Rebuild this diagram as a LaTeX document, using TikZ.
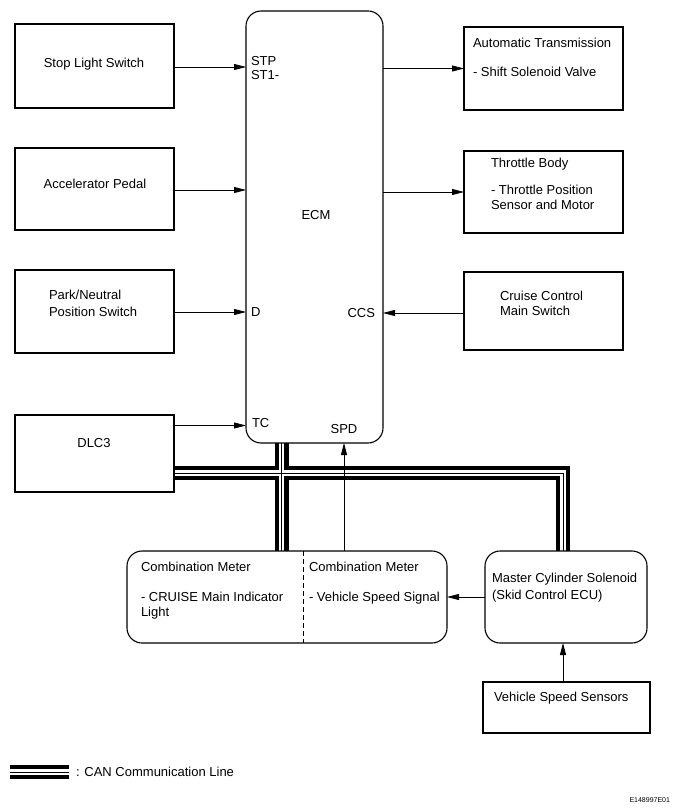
\documentclass[tikz,border=0pt]{standalone}
\usepackage{fontspec}
\setmainfont{Liberation Sans}
\usetikzlibrary{arrows.meta,calc}
\pgfdeclarelayer{background}
\pgfsetlayers{background,main}
\begin{document}
\begin{tikzpicture}[x=1pt,y=-1pt,
  box/.style={draw, line width=1.1pt, inner sep=0pt, outer sep=0pt},
  rbox/.style={box, rounded corners=15pt},
  txt/.style={inner sep=0pt, outer sep=0pt, anchor=base west, font=\fontsize{13}{15}\selectfont},
  ctxt/.style={txt, anchor=base},
  rtxt/.style={txt, anchor=base east},
  arr/.style={line width=0.8pt, -{Triangle[length=12pt,width=6pt]}},
  canout/.style={line width=14pt, line join=miter, line cap=butt},
  canmid/.style={white, line width=5.5pt, line join=miter, line cap=butt},
  canin/.style={line width=1pt, line join=miter, line cap=butt}]
\useasboundingbox (0,0) rectangle (677,810);

% left boxes
\node[box, minimum width=159pt, minimum height=84pt] (stop) at (94.5,66) {};
\node[box, minimum width=159pt, minimum height=82pt] (acc) at (94.5,189) {};
\node[box, minimum width=159pt, minimum height=83pt] (park) at (94.5,311.5) {};
\node[box, minimum width=159pt, minimum height=77pt] (dlc) at (94.5,453.5) {};
% ECM
\node[rbox, minimum width=137pt, minimum height=432pt] (ecm) at (314.5,227) {};
% right boxes
\node[box, minimum width=159pt, minimum height=83pt] (at) at (543.5,68.5) {};
\node[box, minimum width=159pt, minimum height=82pt] (tb) at (543.5,192) {};
\node[box, minimum width=159pt, minimum height=78pt] (ccs) at (543.5,311) {};
% bottom
\node[rbox, minimum width=320pt, minimum height=92pt] (comb) at (287,597) {};
\node[rbox, minimum width=162pt, minimum height=92pt] (mcs) at (566,597) {};
\node[box, minimum width=167pt, minimum height=51pt] (vss) at (566.5,707.5) {};

% texts
\node[ctxt] (t-stop) at (94,67.6) {Stop Light Switch};
\node[ctxt] (t-acc) at (95,188.6) {Accelerator Pedal};
\node[txt] (t-park1) at (49,299.6) {Park/Neutral};
\node[txt] (t-park2) at (49,316.6) {Position Switch};
\node[ctxt] (t-dlc) at (94,447.6) {DLC3};
\node[txt] (stp) at (251,65.6) {STP};
\node[txt] (st1) at (251,79.6) {ST1-};
\node[ctxt] (t-ecm) at (316,219.6) {ECM};
\node[txt] (d) at (251,316.6) {D};
\node[rtxt] (t-ccs) at (375,317.6) {CCS};
\node[txt] (tc) at (252,427.6) {TC};
\node[ctxt] (spd) at (344,433.6) {SPD};
\node[txt] (t-at1) at (473,47.6) {Automatic Transmission};
\node[txt] (t-at2) at (473,76.6) {- Shift Solenoid Valve};
\node[txt] (t-tb1) at (491,167.6) {Throttle Body};
\node[txt] (t-tb2) at (491,194.6) {- Throttle Position};
\node[txt] (t-tb3) at (491,209.3) {Sensor and Motor};
\node[txt] (t-cc1) at (500,300.6) {Cruise Control};
\node[txt] (t-cc2) at (500,315.6) {Main Switch};
\node[txt] (t-cm1) at (141,571.6) {Combination Meter};
\node[txt] (t-cm2) at (141,601.6) {- CRUISE Main Indicator};
\node[txt] (t-cm3) at (141,616) {Light};
\node[txt] (t-cm4) at (309,571.6) {Combination Meter};
\node[txt] (t-cm5) at (309,601.6) {- Vehicle Speed Signal};
\node[txt] (t-mc1) at (492,582.6) {Master Cylinder Solenoid};
\node[txt] (t-mc2) at (492,599.6) {(Skid Control ECU)};
\node[txt] (t-vss) at (494,701.6) {Vehicle Speed Sensors};
\node[txt] (t-leg) at (76,776.6) {: CAN Communication Line};
\node[rtxt, font=\fontsize{7}{8}\selectfont] (code) at (670,802.5) {E148997E01};

% dashed divider
\coordinate (dv) at (303,600);
\draw[line width=0.8pt, dash pattern=on 5pt off 3pt] (dv |- comb.north) -- (dv |- comb.south);

% signal arrows
\draw[arr] (stop.east |- 0,67) -- (ecm.west |- 0,67);
\draw[arr] (acc.east |- 0,190) -- (ecm.west |- 0,190);
\draw[arr] (park.east |- 0,312) -- (ecm.west |- 0,312);
\draw[arr] (dlc.east |- 0,425.5) -- (ecm.west |- 0,425.5);
\draw[arr] (ecm.east |- at.west) -- (at.west);
\draw[arr] (ecm.east |- tb.west) -- (tb.west);
\draw[arr] (ccs.west |- 0,313) -- (ecm.east |- 0,313);
\draw[arr] (comb.north -| spd) -- (ecm.south -| spd);
\draw[arr] (mcs.west) -- (mcs.west -| comb.east);

% CAN lines
\coordinate (canx) at (281.5,473);
\coordinate (canr) at (563,473);
\coordinate (lg1) at (10,772);
\coordinate (lg2) at (69,772);
\draw[arr] (canr |- vss.north) -- (canr |- mcs.south);

\begin{pgfonlayer}{background}
\foreach \st in {canout,canmid,canin}{
  \draw[\st] (canx -| dlc.east) -- (canr) -- (canr |- mcs.north);
  \draw[\st] (canx |- ecm.south) -- (canx |- comb.north);
  \draw[\st] (lg1) -- (lg2);
}
\end{pgfonlayer}
\end{tikzpicture}
\end{document}
